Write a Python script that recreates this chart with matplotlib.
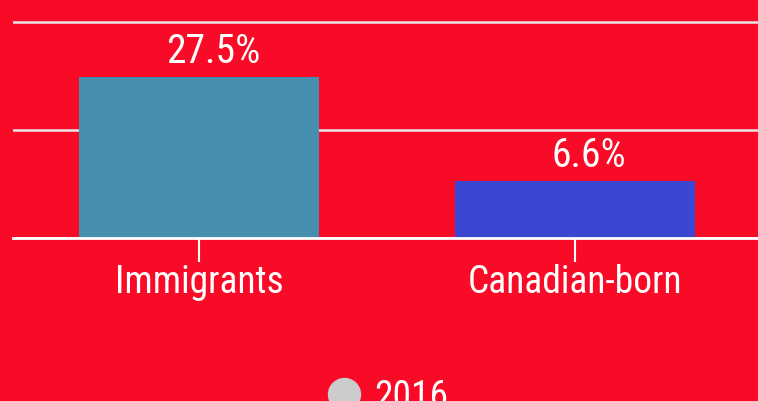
import matplotlib.pyplot as plt
from matplotlib.lines import Line2D
from matplotlib import font_manager

# Data
categories = ['Immigrants', 'Canadian-born']
values = [27.5, 6.6]
bar_colors = ['#478FAF', '#3A47D3']
year = '2016'

names = {f.name for f in font_manager.fontManager.ttflist}
fam = ['Roboto Condensed', 'Roboto'] if 'Roboto Condensed' in names else ['Roboto']
plt.rcParams['font.family'] = fam + ['DejaVu Sans']

bg = '#F90A27'
base = -4.85  # axis floor in data units

fig = plt.figure(figsize=(7.58, 4.01), dpi=100, facecolor=bg)
ax = fig.add_axes([13 / 758, 163 / 401, 1 - 13 / 758, 238 / 401])
ax.set_facecolor(bg)

x = range(len(categories))
bars = ax.bar(x, [v - base for v in values], bottom=base, width=0.64,
              color=bar_colors, zorder=3)
# labels sit a little right of centre in the source
for b, v in zip(bars, values):
    ax.annotate(f'{v}%', (b.get_x() + b.get_width() / 2, b.get_y() + b.get_height()),
                xytext=(10, 4), textcoords='offset points',
                ha='center', va='bottom', color='white', fontsize=28.5)

ax.set_xlim(-0.495, 1.487)
ax.set_ylim(base, 42.98)
ax.set_yticks([base, 16.85, 38.55])
ax.set_yticklabels([])
ax.tick_params(axis='y', length=0)
ax.grid(axis='y', color='#E6E6E6', linewidth=1.8, zorder=1)

ax.set_xticks(list(x))
ax.set_xticklabels(categories, color='white', fontsize=27)
ax.tick_params(axis='x', length=17, width=1.5, color='white', pad=2)

for s in ['top', 'right', 'left']:
    ax.spines[s].set_visible(False)
ax.spines['bottom'].set_color('white')
ax.spines['bottom'].set_linewidth(2)
ax.spines['bottom'].set_zorder(4)

# legend, partly below the bottom edge as in the source
fig.add_artist(Line2D([344 / 758], [1 - 394 / 401], transform=fig.transFigure,
                      marker='o', linestyle='none', markersize=23,
                      markerfacecolor='#CCCCCC', markeredgecolor='#CCCCCC'))
fig.text(374 / 758, 1 - 408 / 401, year, color='white', fontsize=27,
         ha='left', va='baseline')

fig.savefig('out.png', dpi=100, facecolor=bg)
